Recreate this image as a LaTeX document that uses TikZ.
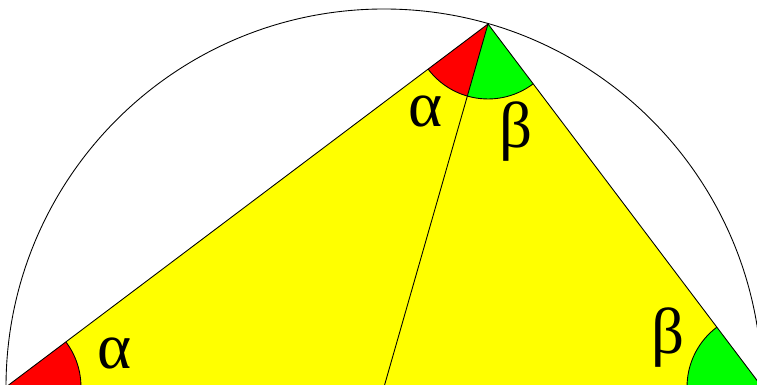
\documentclass[tikz,border=0pt]{standalone}
\usepackage{fontspec}
\setmainfont{Liberation Serif}
\usetikzlibrary{angles}
\definecolor{triyellow}{HTML}{FFFF00}
\definecolor{angred}{HTML}{FF0000}
\definecolor{anggreen}{HTML}{00FF00}
\tikzset{
  edge/.style={draw=black,line width=0.5pt},
  wedge/.style={draw=black,line width=0.5pt,angle radius=1.5cm},
  redwedge/.style={wedge,fill=angred},
  greenwedge/.style={wedge,fill=anggreen},
  greek/.style={font=\fontsize{37}{44}\selectfont,inner sep=0pt}
}

\begin{document}
\begin{tikzpicture}[x=0.02cm,y=0.02cm]
    \clip (0,0) rectangle (757,385);
    \coordinate (ctr) at (384,-2);
    \coordinate (lft) at (6,-2);
    \coordinate (rgt) at (762,-2);
    \coordinate (top) at (488,361);

    \fill[triyellow] (lft) -- (top) -- (rgt) -- cycle;
    \pic[redwedge] {angle=rgt--lft--top};
    \pic[redwedge] {angle=lft--top--ctr};
    \pic[greenwedge] {angle=ctr--top--rgt};
    \pic[greenwedge] {angle=top--rgt--lft};
    \draw[edge] (lft) -- (top) -- (rgt) -- cycle;
    \draw[edge] (top) -- (ctr);
    \draw[edge] (rgt) arc[start angle=0,end angle=180,radius=378];

    \node[greek] (alphaL) at (115,32) {α};
    \node[greek] (alphaT) at (426,274) {α};
    \node[greek] (betaT) at (516,253) {β};
    \node[greek] (betaR) at (668,47) {β};
\end{tikzpicture}
\end{document}
